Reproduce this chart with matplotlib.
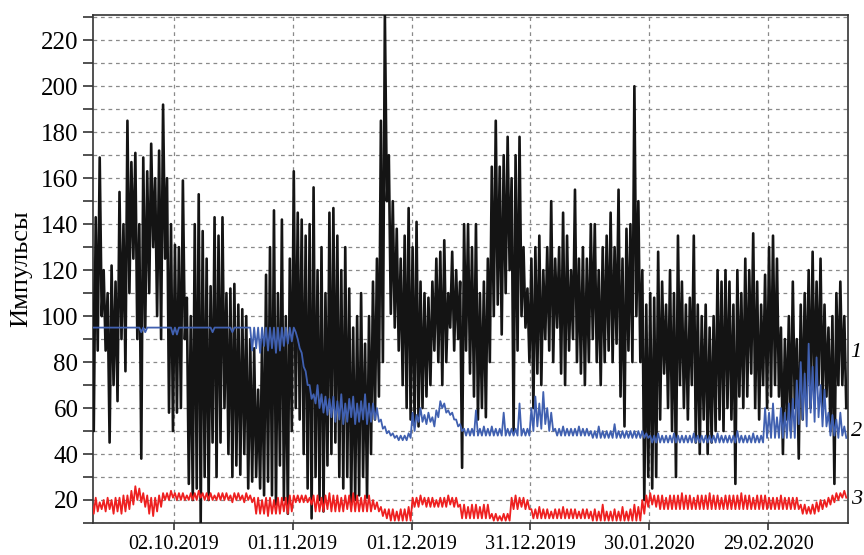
import numpy as np
import matplotlib
matplotlib.use('Agg')
import matplotlib.pyplot as plt
import matplotlib.dates as mdates
from matplotlib.ticker import MultipleLocator
import datetime as dt

# Daily high / low values, starting 11.09.2019
start = dt.datetime(2019, 9, 11)

black_hi = [125, 143, 169, 120, 110, 122, 115, 154, 140, 185,
            167, 171, 140, 169, 163, 175, 160, 172, 192, 160,
            140, 131, 130, 159, 108, 100, 140, 153, 137, 125,
            113, 143, 135, 143, 110, 112, 114, 105, 103, 100,
            90, 86, 68, 90, 118, 130, 146, 110, 142, 100,
            125, 163, 145, 142, 135, 140, 156, 120, 130, 110,
            145, 147, 135, 120, 130, 112, 95, 100, 110, 88,
            100, 115, 125, 185, 231, 170, 150, 138, 125, 135,
            147, 130, 141, 115, 110, 108, 115, 125, 128, 133,
            110, 128, 120, 115, 140, 140, 130, 140, 110, 115,
            125, 165, 185, 165, 170, 178, 160, 170, 178, 130,
            112, 125, 130, 135, 120, 130, 150, 125, 130, 145,
            135, 120, 155, 125, 130, 125, 140, 140, 120, 130,
            135, 145, 130, 155, 125, 138, 140, 200, 150, 120,
            105, 110, 108, 128, 115, 105, 120, 110, 135, 115,
            105, 108, 135, 105, 100, 105, 95, 100, 120, 115,
            120, 115, 105, 120, 110, 125, 120, 136, 115, 105,
            118, 130, 135, 125, 95, 90, 100, 115, 90, 105,
            110, 120, 128, 115, 125, 105, 95, 100, 110, 115, 100]
black_lo = [50, 85, 100, 85, 45, 70, 63, 90, 76, 110,
            125, 90, 38, 95, 110, 130, 100, 90, 125, 58,
            50, 58, 60, 90, 27, 20, 25, 10, 30, 20,
            45, 30, 45, 60, 40, 30, 35, 31, 40, 25,
            28, 30, 25, 22, 28, 22, 18, 35, 20, 14,
            50, 60, 55, 40, 25, 12, 30, 20, 15, 35,
            40, 45, 30, 25, 30, 18, 20, 22, 30, 21,
            40, 55, 65, 80, 150, 101, 95, 85, 70, 60,
            55, 53, 52, 60, 65, 70, 85, 80, 70, 80,
            95, 85, 90, 34, 85, 75, 65, 55, 60, 56,
            80, 100, 105, 92, 110, 120, 49, 85, 100, 95,
            80, 60, 75, 70, 90, 85, 80, 95, 75, 70,
            85, 90, 80, 75, 70, 80, 90, 80, 70, 80,
            85, 80, 88, 65, 52, 85, 80, 100, 80, 20,
            30, 25, 30, 55, 75, 60, 50, 30, 70, 60,
            55, 70, 45, 40, 55, 40, 45, 50, 55, 50,
            60, 55, 27, 65, 60, 65, 75, 60, 55, 70,
            60, 65, 70, 65, 40, 55, 50, 60, 38, 55,
            65, 60, 65, 70, 60, 65, 50, 27, 70, 70, 60]

blue_hi = [95, 95, 95, 95, 95, 95, 95, 95, 95, 95,
           95, 95, 95, 95, 95, 95, 95, 95, 95, 95,
           95, 95, 95, 95, 95, 95, 95, 95, 95, 95,
           95, 95, 95, 95, 95, 95, 95, 95, 95, 95,
           95, 95, 95, 95, 95, 95, 95, 95, 95, 95, 95,
           95, 90, 84, 76, 70, 66, 70, 66, 65, 64,
           65, 63, 66, 62, 64, 65, 62, 63, 66, 62,
           62, 60, 55, 52, 50, 49, 48, 48, 48, 49,
           58, 57, 60, 57, 58, 56, 59, 63, 62, 59, 58, 55, 53,
           51, 51, 51, 59, 51, 52, 51, 52, 51, 51, 58, 51, 51, 51, 62, 51, 51,
           60, 65, 62, 67, 60, 58,
           51, 51, 52, 51, 51, 51, 52, 51, 51,
           50, 50, 52, 50, 50, 50, 53, 50, 50, 50, 50, 50, 50, 50, 49,
           48, 48, 49, 48, 48, 48, 49, 48, 48, 48, 48, 49, 48, 48, 48,
           48, 48, 49, 48, 48, 48, 48, 50, 48, 48, 48, 49, 48, 48,
           60, 58, 62, 56, 60, 58, 62, 64,
           72, 80, 75, 88, 78, 82, 70, 68,
           58, 57, 55, 58, 52]
blue_lo = [95, 95, 95, 95, 95, 95, 95, 95, 95, 95,
           95, 95, 93, 93, 95, 95, 95, 95, 95, 95,
           92, 92, 95, 95, 95, 95, 95, 95, 95, 95,
           93, 95, 95, 95, 95, 93, 95, 95, 95, 95,
           85, 86, 84, 87, 85, 86, 84, 85, 87, 88, 89,
           93, 86, 78, 70, 64, 62, 60, 58, 57, 56,
           54, 55, 53, 54, 56, 53, 54, 55, 53, 54,
           55, 54, 51, 49, 48, 47, 46, 46, 46, 47,
           50, 54, 54, 53, 54, 52, 56, 60, 58, 57, 55, 52, 50,
           48, 48, 48, 48, 48, 48, 48, 48, 48, 48, 48, 48, 48, 48, 48, 48, 48,
           50, 52, 51, 53, 50, 50,
           48, 48, 48, 48, 48, 48, 48, 48, 48,
           47, 47, 47, 47, 47, 47, 47, 47, 47, 47, 47, 47, 47, 47, 47,
           45, 45, 45, 45, 45, 45, 45, 45, 45, 45, 45, 45, 45, 45, 45,
           45, 45, 45, 45, 45, 45, 45, 45, 45, 45, 45, 45, 45, 45,
           47, 47, 47, 47, 47, 47, 47, 47,
           53, 55, 52, 58, 54, 56, 52, 52,
           48, 48, 47, 48, 47]

red_hi = [20, 21, 19, 20, 21, 20, 21, 21, 22,
          22, 24, 26,
          25, 23, 22, 21, 21, 22,
          23, 23, 24, 23, 23, 23, 22, 23, 23, 24, 23, 23,
          23, 22, 23, 23, 23, 22, 23, 23, 22, 23, 22,
          21, 21, 20, 21, 21, 20, 21, 21, 21, 22,
          22, 22, 22, 22, 21,
          22, 22, 21, 22, 23, 22, 22, 21, 22, 22, 23, 22, 21, 22, 22,
          20, 19, 17, 16,
          16, 16, 15, 16, 16, 17,
          21, 21, 22, 21, 21, 21, 20, 21, 21, 22, 21, 21,
          18, 18, 17, 18, 18, 17, 18, 18,
          14, 14, 13, 14, 14,
          21, 22, 21, 21, 20,
          16, 16, 17, 16, 16, 15, 16, 16, 17, 16, 16, 16, 15, 16, 16,
          15, 16, 15, 18, 15, 15, 16, 15, 17, 15, 16, 18, 17,
          20, 22, 23, 22,
          22, 22, 21, 22, 22, 22, 23, 22, 22, 21, 22, 22, 22, 23,
          22, 22, 21, 22, 22, 22, 22, 23, 22, 22, 21, 22, 22, 22,
          21, 21, 21, 22, 21, 21, 21, 21,
          18, 18, 17, 18,
          19, 20, 20, 21, 22, 23, 23, 24]
red_lo = [14, 15, 16, 15, 16, 14, 15, 14, 15,
          16, 18, 20,
          19, 17, 14, 13, 15, 17,
          20, 20, 21, 20, 20, 20, 20, 20, 20, 21, 20, 20,
          20, 20, 20, 20, 20, 19, 20, 20, 19, 20, 19,
          14, 14, 14, 13, 14, 14, 14, 15, 14, 15,
          19, 19, 19, 19, 18,
          15, 15, 15, 16, 15, 15, 15, 15, 16, 15, 15, 15, 15, 15, 15,
          16, 15, 13, 12,
          11, 11, 11, 11, 11, 11,
          17, 17, 18, 17, 17, 17, 17, 17, 17, 18, 17, 17,
          12, 12, 12, 12, 12, 12, 12, 12,
          11, 11, 11, 11, 11,
          16, 16, 17, 16, 16,
          12, 12, 12, 12, 12, 12, 12, 12, 12, 12, 12, 12, 12, 12, 12,
          11, 11, 11, 11, 11, 11, 11, 11, 11, 11, 11, 11, 11,
          14, 17, 18, 17,
          16, 16, 16, 16, 16, 16, 16, 16, 16, 16, 16, 16, 16, 16,
          16, 16, 16, 16, 16, 16, 16, 16, 16, 16, 16, 16, 16, 16,
          16, 16, 16, 16, 16, 16, 16, 16,
          14, 14, 14, 14,
          15, 16, 17, 18, 19, 20, 21, 21]

tick_dates = ['02.10.2019', '01.11.2019', '01.12.2019',
              '31.12.2019', '30.01.2020', '29.02.2020']
series_labels = ['1', '2', '3']
label_levels = [84, 50, 20]


def zigzag(hi, lo):
    # one high and one low per day
    t0 = mdates.date2num(start)
    days = np.arange(len(hi))
    t = np.empty(2 * len(hi))
    v = np.empty(2 * len(hi))
    t[0::2] = t0 + days + 0.25
    t[1::2] = t0 + days + 0.75
    v[0::2] = hi
    v[1::2] = lo
    return t, v


plt.rcParams['font.family'] = ['Liberation Serif', 'DejaVu Serif']

fig = plt.figure(figsize=(8.64, 5.55), dpi=100)
ax = fig.add_axes([0.1076, 0.0577, 0.8735, 0.9153])

t, v = zigzag(black_hi, black_lo)
ax.plot(t, v, color='#141414', lw=1.9, zorder=3)
t, v = zigzag(blue_hi, blue_lo)
ax.plot(t, v, color='#4060b0', lw=1.3, zorder=4)
t, v = zigzag(red_hi, red_lo)
ax.plot(t, v, color='#ee2020', lw=1.3, zorder=5)

t0 = mdates.date2num(start)
ax.set_xlim(t0 + 0.55, t0 + 191.1)
ax.set_ylim(10, 231)

ticks = [mdates.date2num(dt.datetime.strptime(d, '%d.%m.%Y')) for d in tick_dates]
ax.set_xticks(ticks)
ax.set_xticklabels(tick_dates, fontsize=14.5)
ax.yaxis.set_minor_locator(MultipleLocator(10))
ax.set_yticks(np.arange(20, 221, 20))
ax.tick_params(axis='y', which='both', direction='out', length=7, width=1.2,
               labelsize=18, color='#333333')
ax.tick_params(axis='x', direction='out', length=5, width=1.2, color='#333333')

ax.grid(True, which='both', axis='y', color='#8a8a8a', lw=0.9, ls=(0, (3, 3)))
ax.grid(True, which='major', axis='x', color='#8a8a8a', lw=0.9, ls=(0, (3, 3)))
for s in ax.spines.values():
    s.set_linewidth(1.2)
    s.set_color('#333333')

ax.set_ylabel('Импульсы', fontsize=19, labelpad=6)

for lab, lev in zip(series_labels, label_levels):
    ax.text(1.004, lev, lab, transform=ax.get_yaxis_transform(), fontsize=16,
            style='italic', va='center', ha='left', clip_on=False)

fig.savefig('out.png', dpi=100)
